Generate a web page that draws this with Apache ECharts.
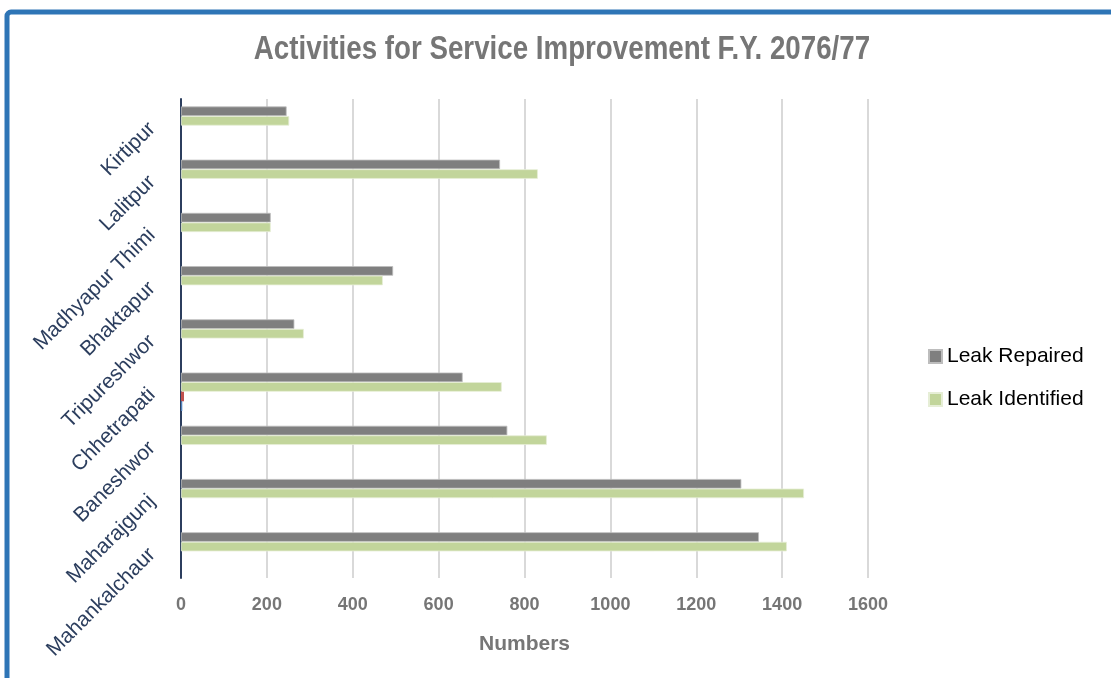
<!DOCTYPE html>
<html>
<head>
<meta charset="utf-8">
<title>Activities for Service Improvement F.Y. 2076/77</title>
<script src="https://cdn.jsdelivr.net/npm/echarts@6/dist/echarts.min.js"></script>
<style>
  html, body { margin: 0; padding: 0; background: #ffffff; }
  #chart { width: 1111px; height: 678px; }
</style>
</head>
<body>
<div id="chart"></div>
<script>
// Branch offices, listed top to bottom
const categories = [
  'Kirtipur', 'Lalitpur', 'Madhyapur Thimi', 'Bhaktapur', 'Tripureshwor',
  'Chhetrapati', 'Baneshwor', 'Maharajgunj', 'Mahankalchaur'
];

// Leak counts per branch
const leakRepaired   = [246, 743, 209, 494, 264, 656, 760, 1305, 1346];
const leakIdentified = [252, 831, 209, 470, 286, 747, 852, 1451, 1411];

// Two minor series that only carry a value for Chhetrapati
const minorA = [null, null, null, null, null, 7, null, null, null];
const minorB = [null, null, null, null, null, 3, null, null, null];

const xTicks = { min: 0, max: 1600, interval: 200 };

const titleText = 'Activities for Service Improvement F.Y. 2076/77';

const chart = echarts.init(document.getElementById('chart'), null, { renderer: 'canvas' });

const option = {
  backgroundColor: '#ffffff',
  animation: false,
  graphic: [
    {
      // Title, drawn slightly condensed
      type: 'text',
      x: 562,
      y: 50,
      scaleX: 0.84,
      silent: true,
      style: {
        text: titleText,
        align: 'center',
        verticalAlign: 'middle',
        fontFamily: 'Liberation Sans, Arial',
        fontWeight: 'bold',
        fontSize: 33,
        fill: '#767676'
      }
    },
    {
      // Frame around the chart area
      type: 'rect',
      silent: true,
      z: 100,
      shape: { x: 7, y: 12, width: 1200, height: 800, r: 4 },
      style: { fill: 'none', stroke: '#2e75b6', lineWidth: 5 }
    }
  ],
  legend: {
    data: ['Leak Repaired', 'Leak Identified'],
    orient: 'vertical',
    left: 923,
    top: 341,
    itemWidth: 13,
    itemHeight: 13,
    itemGap: 22,
    icon: 'rect',
    textStyle: {
      fontFamily: 'Liberation Sans, Arial',
      fontSize: 21,
      color: '#000000'
    }
  },
  grid: {
    left: 181,
    right: 243,
    top: 99,
    bottom: 100,
    containLabel: false
  },
  xAxis: {
    type: 'value',
    min: xTicks.min,
    max: xTicks.max,
    interval: xTicks.interval,
    name: 'Numbers',
    nameLocation: 'middle',
    nameGap: 56,
    nameTextStyle: {
      fontFamily: 'Liberation Sans, Arial',
      fontWeight: 'bold',
      fontSize: 21,
      color: '#767676'
    },
    axisLine: { show: false },
    axisTick: { show: false },
    axisLabel: {
      margin: 18,
      formatter: (v) => String(v),
      fontFamily: 'Liberation Sans, Arial',
      fontWeight: 'bold',
      fontSize: 18,
      color: '#767676'
    },
    splitLine: { show: true, lineStyle: { color: '#d9d9d9', width: 2 } }
  },
  yAxis: {
    type: 'category',
    data: categories,
    inverse: true,
    axisLine: { show: true, lineStyle: { color: '#2c3e5e', width: 2 } },
    axisTick: { show: false },
    splitLine: { show: false },
    axisLabel: {
      rotate: 45,
      margin: 29,
      fontFamily: 'Liberation Sans, Arial',
      fontSize: 21,
      color: '#2c3e5e'
    }
  },
  series: [
    {
      name: 'Leak Repaired',
      type: 'bar',
      data: leakRepaired,
      barGap: '0%',
      barCategoryGap: '28%',
      itemStyle: { color: '#7f7f7f', borderColor: '#bdbdbd', borderWidth: 0.8 }
    },
    {
      name: 'Leak Identified',
      type: 'bar',
      data: leakIdentified,
      itemStyle: { color: '#c2d59b', borderColor: '#e6eed6', borderWidth: 0.8 }
    },
    {
      name: 'Series 3',
      type: 'bar',
      data: minorA,
      itemStyle: { color: '#c0504d' }
    },
    {
      name: 'Series 4',
      type: 'bar',
      data: minorB,
      itemStyle: { color: '#4f81bd' }
    }
  ]
};

chart.setOption(option);
</script>
</body>
</html>
